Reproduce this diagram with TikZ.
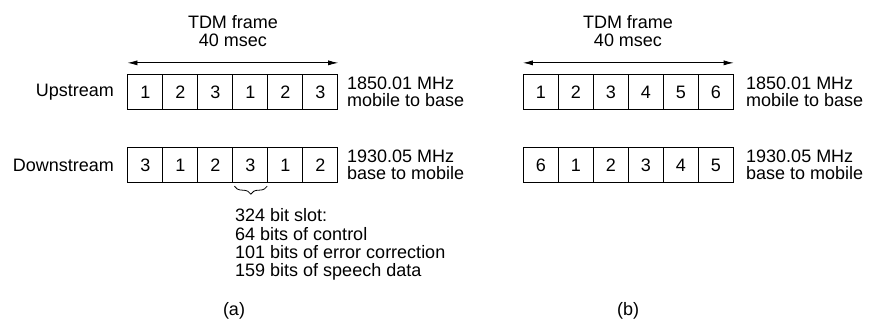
\documentclass[tikz,border=0pt]{standalone}
\usepackage{fontspec}
\setmainfont{Liberation Sans}
\usetikzlibrary{arrows.meta,decorations.pathreplacing}
\begin{document}
\begin{tikzpicture}[x=1pt,y=-1pt,
  cell/.style={draw,line width=0.8pt,minimum width=35pt,minimum height=35.5pt,inner sep=0pt,font=\fontsize{18}{18}\selectfont},
  lbl/.style={inner sep=0pt,font=\fontsize{18}{18}\selectfont},
  freq/.style={inner sep=0pt,anchor=west,align=left,font=\fontsize{18}{17}\selectfont},
  slot/.style={inner sep=0pt,anchor=north west,align=left,font=\fontsize{18}{18.3}\selectfont},
  span/.style={line width=0.8pt,{Latex[length=10pt,width=5pt]}-{Latex[length=10pt,width=5pt]}}]
\useasboundingbox (0,0) rectangle (872,325);
% frame (a)
\foreach \v [count=\i] in {1,2,3,1,2,3}
  \node[cell] (au\i) at ({145.3+35*(\i-1)},92) {\v};
\foreach \v [count=\i] in {3,1,2,3,1,2}
  \node[cell] (ad\i) at ({145.3+35*(\i-1)},165) {\v};
% frame (b)
\foreach \v [count=\i] in {1,2,3,4,5,6}
  \node[cell] (bu\i) at ({540.8+35*(\i-1)},92) {\v};
\foreach \v [count=\i] in {6,1,2,3,4,5}
  \node[cell] (bd\i) at ({540.8+35*(\i-1)},165) {\v};
% titles
\node[lbl] (at1) at (233,21.7) {TDM frame};
\node[lbl] (at2) at (233,40) {40 msec};
\node[lbl] (bt1) at (628,21.7) {TDM frame};
\node[lbl] (bt2) at (628,40) {40 msec};
% arrows
\coordinate (aL) at ([yshift=11pt]au1.north west);
\coordinate (aR) at ([yshift=11pt]au6.north east);
\draw[span] (aL) -- (aR);
\coordinate (bL) at ([yshift=11pt]bu1.north west);
\coordinate (bR) at ([yshift=11pt]bu6.north east);
\draw[span] (bL) -- (bR);
% row labels
\node[lbl,anchor=east] (up) at (114,92) {Upstream};
\node[lbl,anchor=east] (down) at (114,165) {Downstream};
% frequency labels
\node[freq] (af1) at (347,92) {1850.01 MHz\\mobile to base};
\node[freq] (af2) at (347,165) {1930.05 MHz\\base to mobile};
\node[freq] (bf1) at (746,92) {1850.01 MHz\\mobile to base};
\node[freq] (bf2) at (746,165) {1930.05 MHz\\base to mobile};
% brace
\draw[line width=0.8pt,decorate,decoration={brace,mirror,amplitude=8pt}]
  ([xshift=2pt,yshift=-3pt]ad4.south west) -- ([xshift=-1pt,yshift=-3pt]ad4.south east);
\node[slot] (slot) at (235,208.5) {324 bit slot:\\64 bits of control\\101 bits of error correction\\159 bits of speech data};
% captions
\node[lbl] (capa) at (234,311) {(a)};
\node[lbl] (capb) at (628,311) {(b)};
\end{tikzpicture}
\end{document}
